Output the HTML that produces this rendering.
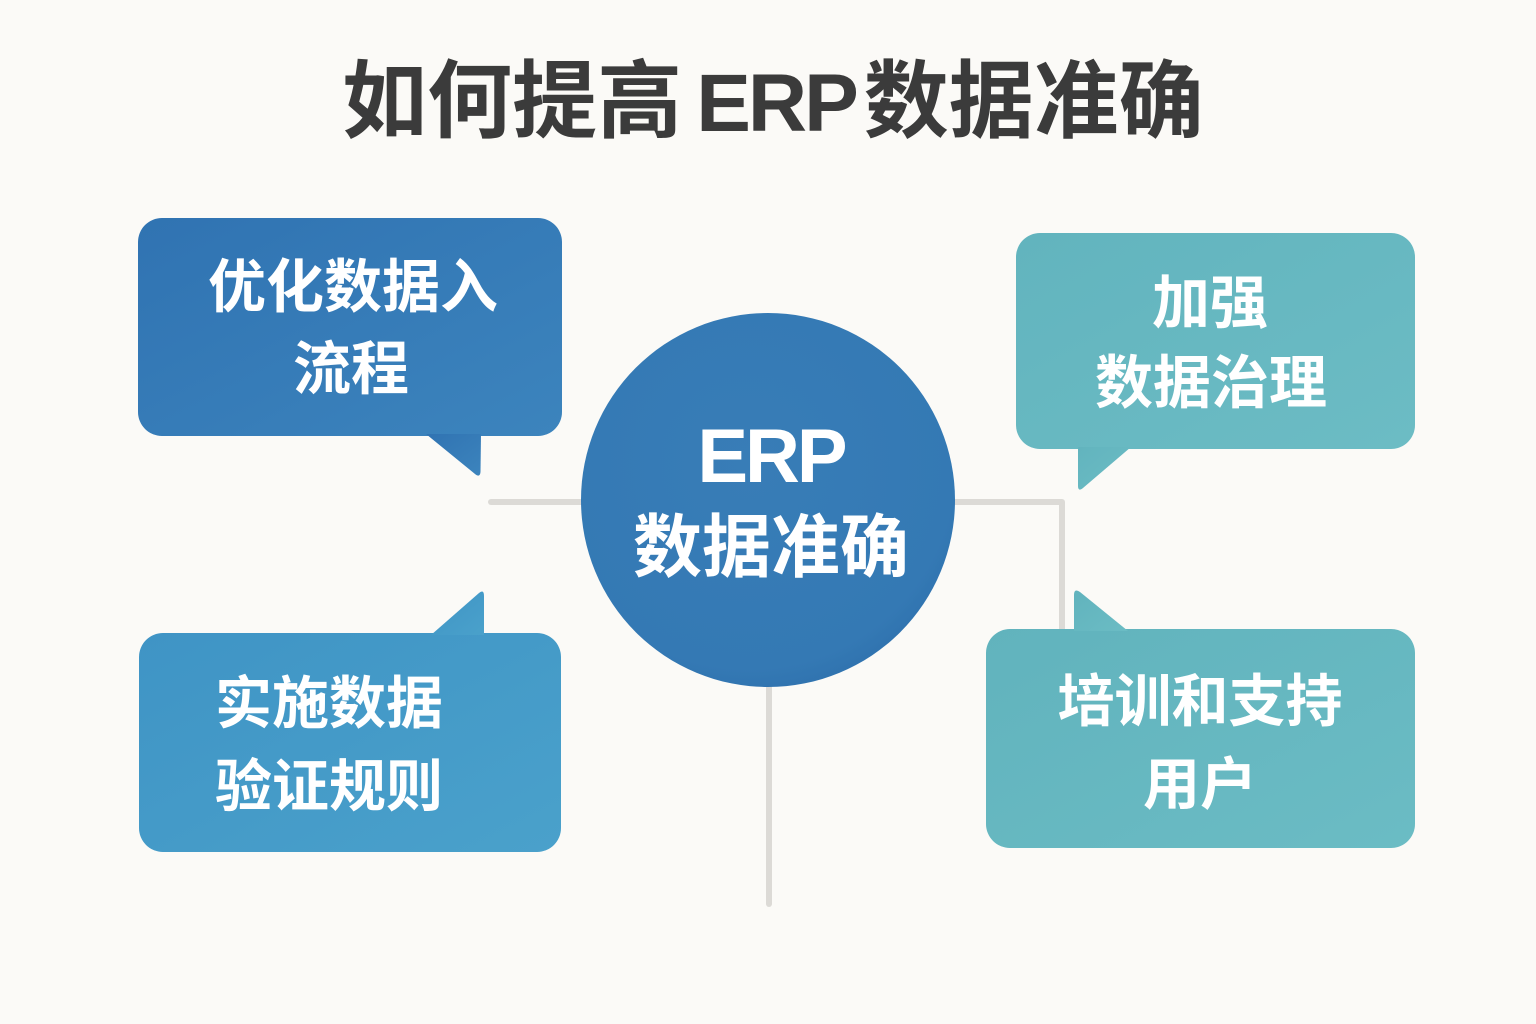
<!DOCTYPE html>
<html><head><meta charset="utf-8">
<style>
html,body{margin:0;padding:0;}
body{width:1536px;height:1024px;background:#fbfaf7;position:relative;overflow:hidden;font-family:"Liberation Sans","Noto Sans CJK SC",sans-serif;font-weight:700;}
svg{position:absolute;left:0;top:0;}
.t{position:absolute;white-space:nowrap;color:#fff;font-weight:700;font-family:"Liberation Sans","Noto Sans CJK SC",sans-serif;}
.c{transform:translateX(-50%);}
</style></head>
<body>
<svg width="1536" height="1024" viewBox="0 0 1536 1024">
<defs>
<linearGradient id="gTL" x1="0" y1="0" x2="1" y2="1">
<stop offset="0" stop-color="#3073b2"/><stop offset="1" stop-color="#3c84bd"/></linearGradient>
<linearGradient id="gBL" x1="0" y1="0" x2="1" y2="1">
<stop offset="0" stop-color="#3f94c5"/><stop offset="1" stop-color="#4aa1cb"/></linearGradient>
<linearGradient id="gTR" x1="0" y1="0" x2="1" y2="1">
<stop offset="0" stop-color="#62b4be"/><stop offset="1" stop-color="#6cbcc4"/></linearGradient>
<linearGradient id="gBR" x1="0" y1="0" x2="1" y2="1">
<stop offset="0" stop-color="#61b3bd"/><stop offset="1" stop-color="#6bbcc4"/></linearGradient>
<radialGradient id="gC" cx="0.45" cy="0.4" r="0.65">
<stop offset="0" stop-color="#387db7"/><stop offset="0.85" stop-color="#3479b4"/><stop offset="1" stop-color="#2e70ad"/></radialGradient>
</defs>
<!-- connectors -->
<g stroke="#dcdad6" stroke-width="6" fill="none" stroke-linecap="round" stroke-linejoin="round">
<path d="M491 502 H600"/>
<path d="M940 502 H1062 V640"/>
<path d="M769 670 V904"/>
</g>
<!-- center circle -->
<circle cx="768" cy="500" r="187" fill="url(#gC)"/>
<!-- top-left box -->
<g fill="url(#gTL)">
<rect x="138" y="218" width="424" height="218" rx="24"/>
<path d="M426 434 L481 434 L480.5 472 Q480 478 475 474 Z"/>
</g>
<!-- top-right box -->
<g fill="url(#gTR)">
<rect x="1016" y="233" width="399" height="216" rx="24"/>
<path d="M1078 447 L1131 447 L1083 488 Q1078 492 1078 486 Z"/>
</g>
<!-- bottom-left box -->
<g fill="url(#gBL)">
<rect x="139" y="633" width="422" height="219" rx="24"/>
<path d="M431 635 L484 635 L484 596 Q484 589 479 593 Z"/>
</g>
<!-- bottom-right box -->
<g fill="url(#gBR)">
<rect x="986" y="629" width="429" height="219" rx="24"/>
<path d="M1074 631 L1128 631 L1080 592 Q1074 588 1074 595 Z"/>
</g>
</svg>

<!-- title -->
<div class="t c" style="left:773px;top:60px;font-size:85px;line-height:85px;color:#3b3b3b;">如何提高<span style="letter-spacing:-3px;font-size:82px;margin-left:14px;margin-right:8px;">ERP</span>数据准确</div>

<!-- top-left text -->
<div class="t c" style="left:353px;top:259px;font-size:58px;line-height:58px;">优化数据入</div>
<div class="t c" style="left:351px;top:341px;font-size:58px;line-height:58px;">流程</div>

<!-- top-right text -->
<div class="t c" style="left:1210px;top:275px;font-size:58px;line-height:58px;">加强</div>
<div class="t c" style="left:1211px;top:355px;font-size:58px;line-height:58px;">数据治理</div>

<!-- bottom-left text -->
<div class="t" style="left:215px;top:676px;font-size:57px;line-height:57px;">实施数据</div>
<div class="t" style="left:215px;top:759px;font-size:57px;line-height:57px;">验证规则</div>

<!-- bottom-right text -->
<div class="t c" style="left:1200px;top:674px;font-size:57px;line-height:57px;">培训和支持</div>
<div class="t c" style="left:1200px;top:757px;font-size:57px;line-height:57px;">用户</div>

<!-- circle text -->
<div class="t c" style="left:771px;top:419px;font-size:76px;line-height:76px;letter-spacing:-3px;">ERP</div>
<div class="t c" style="left:771px;top:513px;font-size:69px;line-height:69px;">数据准确</div>
</body></html>
